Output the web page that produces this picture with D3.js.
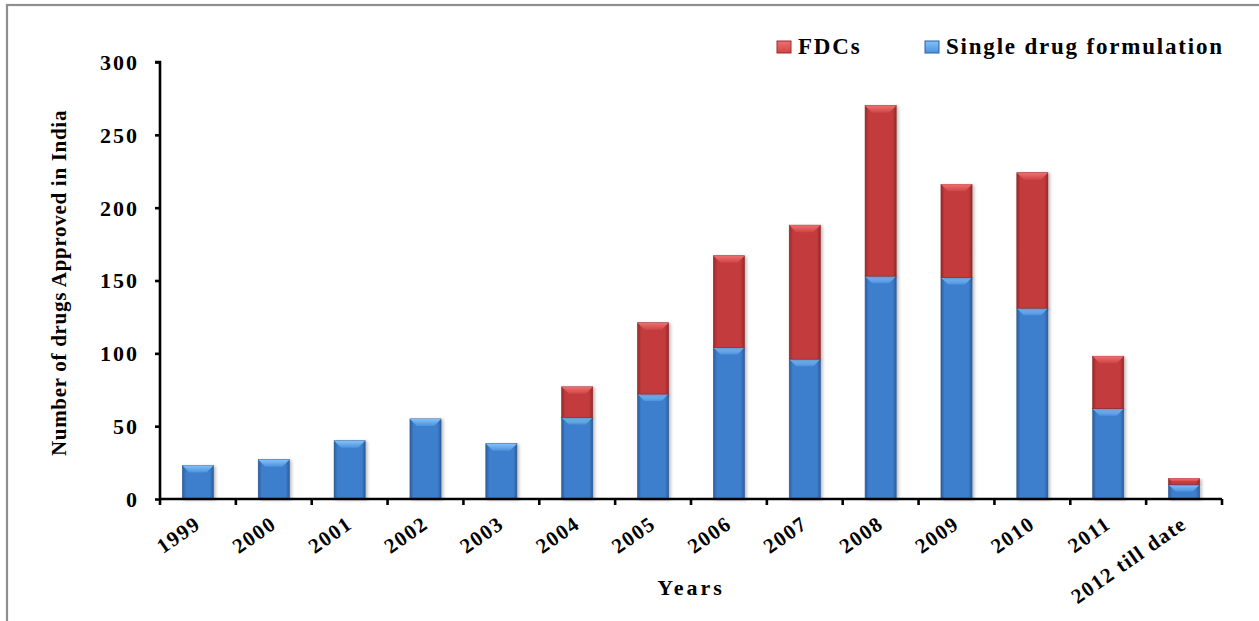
<!DOCTYPE html>
<html>
<head>
<meta charset="utf-8">
<script src="https://cdn.jsdelivr.net/npm/d3@7/dist/d3.min.js"></script>
<style>
  html, body { margin: 0; padding: 0; background: #fff; }
  svg { display: block; }
  text { font-family: "Liberation Serif", "Times New Roman", serif; font-weight: bold; fill: #000; }
</style>
</head>
<body>
<svg id="chart" width="1259" height="621"></svg>
<script>
// ---- data ----
const categories = ["1999","2000","2001","2002","2003","2004","2005","2006","2007","2008","2009","2010","2011","2012 till date"];
const singleDrug = [23, 27, 40, 55, 38, 56, 72, 104, 96, 153, 152, 131, 62, 10];
const fdcs       = [0, 0, 0, 0, 0, 21, 49, 63, 92, 117, 64, 93, 36, 4];
const seriesNames = ["FDCs", "Single drug formulation"];
const yTicks = [0, 50, 100, 150, 200, 250, 300];

const svg = d3.select("#chart");
const W = 1259, H = 621;
const m = { left: 160, right: 1222, top: 62, bottom: 499 };

// frame
svg.append("rect").attr("x", 7).attr("y", 5).attr("width", W + 20).attr("height", H + 20)
  .attr("fill", "#fff").attr("stroke", "#8f8f8f").attr("stroke-width", 2.2);

const defs = svg.append("defs");
function hGrad(id, edge, mid) {
  const g = defs.append("linearGradient").attr("id", id).attr("x1", 0).attr("x2", 1).attr("y1", 0).attr("y2", 0);
  [[0, edge], [0.12, mid], [0.88, mid], [1, edge]].forEach(([o, c]) => g.append("stop").attr("offset", o).attr("stop-color", c));
}
function vGrad(id, c1, c2) {
  const g = defs.append("linearGradient").attr("id", id).attr("x1", 0).attr("x2", 0).attr("y1", 0).attr("y2", 1);
  g.append("stop").attr("offset", 0).attr("stop-color", c1);
  g.append("stop").attr("offset", 1).attr("stop-color", c2);
}
hGrad("blueBody", "#2c5e9f", "#3e7fcd");
hGrad("redBody", "#942a2b", "#c43b3c");
vGrad("blueTop", "#82c2fa", "#4d92de");
vGrad("redTop", "#ee7070", "#d04546");
const f = defs.append("filter").attr("id", "shadow").attr("x", "-20%").attr("y", "-10%").attr("width", "150%").attr("height", "130%");
f.append("feDropShadow").attr("dx", 2).attr("dy", 1).attr("stdDeviation", 1.5).attr("flood-color", "#000").attr("flood-opacity", 0.25);

// scales
const x = d3.scaleBand().domain(categories).range([m.left, m.right]).paddingInner(0).paddingOuter(0);
const y = d3.scaleLinear().domain([0, 300]).range([m.bottom, m.top]);
const barW = x.bandwidth() * 0.41;

// stacked data
const rows = categories.map((c, i) => ({ cat: c, single: singleDrug[i], fdc: fdcs[i] }));
const stack = d3.stack().keys(["single", "fdc"])(rows);
const styles = { single: { body: "url(#blueBody)", top: "url(#blueTop)", line: "#2a568f" },
                 fdc:    { body: "url(#redBody)",  top: "url(#redTop)",  line: "#8a2627" } };

const gBars = svg.append("g");
stack.forEach(layer => {
  const st = styles[layer.key];
  const segs = gBars.append("g").selectAll("g").data(layer.filter(d => d[1] - d[0] > 0)).join("g")
    .attr("filter", "url(#shadow)");
  segs.append("rect")
    .attr("x", d => x(d.data.cat) + (x.bandwidth() - barW) / 2)
    .attr("y", d => y(d[1]))
    .attr("width", barW)
    .attr("height", d => y(d[0]) - y(d[1]))
    .attr("fill", st.body)
    .attr("stroke", st.line).attr("stroke-width", 0.6);
  segs.append("polygon")
    .attr("points", d => {
      const x0 = x(d.data.cat) + (x.bandwidth() - barW) / 2, x1 = x0 + barW;
      const t = y(d[1]);
      const bev = Math.min(7, (y(d[0]) - y(d[1])) / 2);
      return [[x0, t], [x1, t], [x1 - bev, t + bev], [x0 + bev, t + bev]].map(p => p.join(",")).join(" ");
    })
    .attr("fill", st.top);
});

// axes
const yAxis = d3.axisLeft(y).tickValues(yTicks).tickSize(5).tickPadding(16).tickFormat(d3.format("d"));
const gy = svg.append("g").attr("transform", `translate(${m.left},0)`).call(yAxis);
gy.select(".domain").attr("stroke", "#000").attr("stroke-width", 2.6).attr("d", `M-5,${m.top}H0V${m.bottom}`);
gy.selectAll(".tick line").attr("stroke", "#000").attr("stroke-width", 2.6);
gy.selectAll(".tick text").attr("font-size", 22).attr("letter-spacing", 2).attr("dy", "0.34em")
  .attr("font-family", "Liberation Serif").attr("font-weight", "bold");

const gx = svg.append("g").attr("transform", `translate(0,${m.bottom})`);
gx.append("line").attr("x1", m.left).attr("x2", m.right).attr("y1", 0).attr("y2", 0)
  .attr("stroke", "#000").attr("stroke-width", 2.6);
const boundaries = categories.map(c => x(c)).concat([m.right]);
gx.selectAll("line.tk").data(boundaries).join("line").attr("class", "tk")
  .attr("x1", d => d).attr("x2", d => d).attr("y1", 0).attr("y2", 6)
  .attr("stroke", "#000").attr("stroke-width", 2.6);
gx.selectAll("text.lbl").data(categories).join("text").attr("class", "lbl")
  .attr("text-anchor", "end")
  .attr("font-size", 21).attr("letter-spacing", 1.4)
  .attr("transform", d => `translate(${x(d) + x.bandwidth() / 2 + 4},${28}) rotate(-35)`)
  .text(d => d);

// axis titles
svg.append("text").attr("x", 691).attr("y", 595).attr("text-anchor", "middle")
  .attr("font-size", 22).attr("letter-spacing", 3).text("Years");
svg.append("text").attr("transform", "translate(66,283) rotate(-90)").attr("text-anchor", "middle")
  .attr("font-size", 21).attr("letter-spacing", 0.7).text("Number of drugs Approved in India");

// legend
const legendX = [777, 925];
const legendFill = ["url(#redTop)", "url(#blueTop)"];
const legendEdge = ["#9a2b2c", "#2c5e9f"];
const lg = svg.append("g").selectAll("g").data(seriesNames).join("g")
  .attr("transform", (d, i) => `translate(${legendX[i]},0)`);
lg.append("rect").attr("x", 0).attr("y", 41).attr("width", 14).attr("height", 12)
  .attr("fill", (d, i) => legendFill[i]).attr("stroke", (d, i) => legendEdge[i]).attr("stroke-width", 1);
lg.append("text").attr("x", 21).attr("y", 54).attr("font-size", 23).attr("letter-spacing", 1.8).text(d => d);
</script>
</body>
</html>
